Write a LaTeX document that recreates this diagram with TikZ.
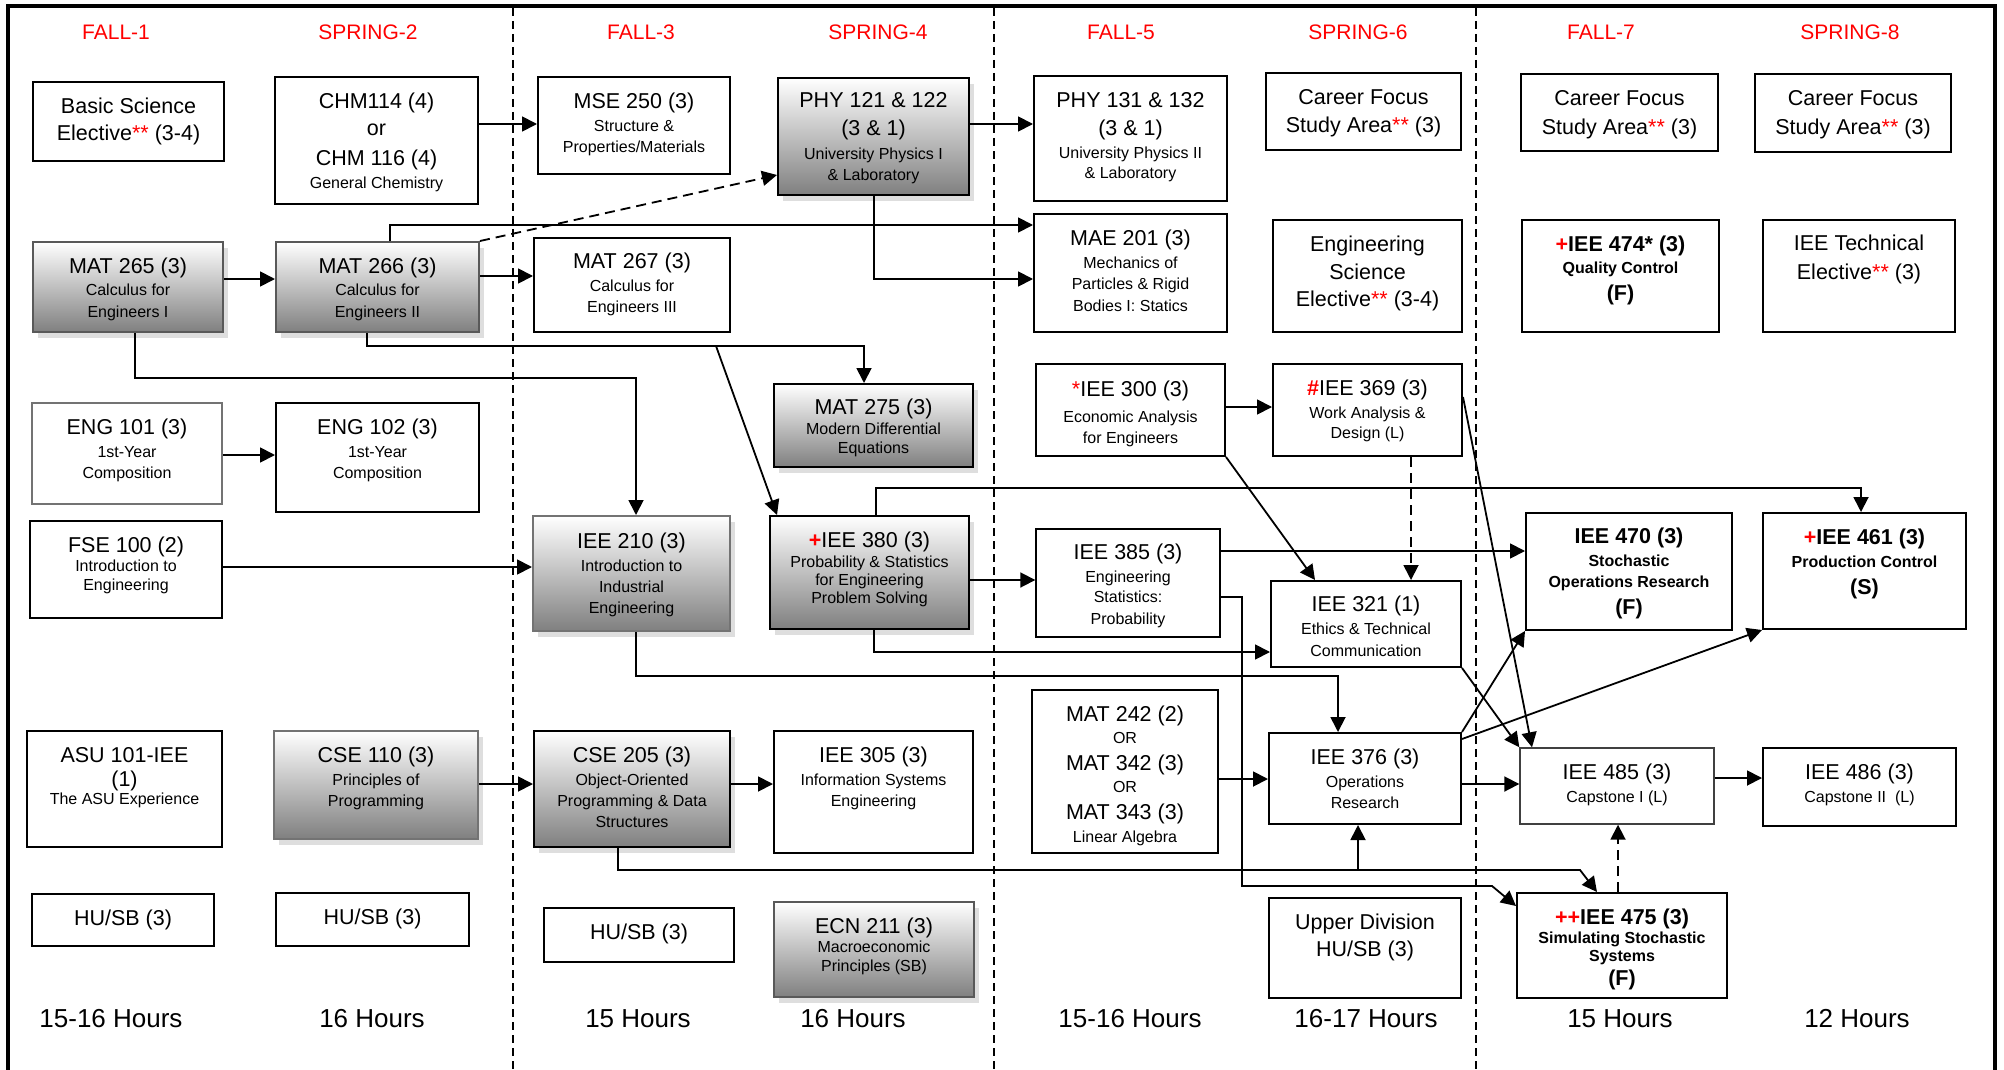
\documentclass[tikz,border=0pt]{standalone}
\usepackage{fontspec}
\setmainfont{Liberation Sans}
\usetikzlibrary{arrows.meta,shadows,calc}
\newcounter{lc}
\newcommand\rd[1]{\textcolor{red}{#1}}
\newcommand\cbox[6]{\node[#6,minimum width={#4-#2},minimum height={#5-#3}] (#1) at ({(#2+#4)/2},{(#3+#5)/2}) {};}
\newcommand\tline[4]{\stepcounter{lc}\node[#3] (lbl\arabic{lc}) at (#1.center |- 0,#2) {#4};}
\begin{document}
\begin{tikzpicture}[x=1pt,y=-1pt,
  box/.style={draw=black,line width=2pt,fill=white,rectangle,inner sep=0pt},
  gbox/.style={box,draw=black!55},
  thinbox/.style={box,line width=1.4pt},
  sbox/.style={box,draw=black!65,top color=white,bottom color=black!50,
     drop shadow={shadow xshift=5pt,shadow yshift=-6pt,fill=black!13,opacity=1}},
  big/.style={font=\fontsize{21.5}{25}\selectfont,text height=15.4pt,text depth=0pt,inner sep=0pt},
  sm/.style={font=\fontsize{16}{19}\selectfont,text height=11.5pt,text depth=0pt,inner sep=0pt},
  bbig/.style={big,font=\fontsize{21.5}{25}\selectfont\bfseries},
  bsm/.style={sm,font=\fontsize{16}{19}\selectfont\bfseries},
  hrs/.style={font=\fontsize{26}{30}\selectfont,text height=18.6pt,text depth=0pt,inner sep=0pt},
  head/.style={font=\fontsize{21}{25}\selectfont,text=red,text height=15pt,text depth=0pt,inner sep=0pt},
  arr/.style={line width=1.8pt,-{Triangle[length=15pt,width=15pt]}},
  dashline/.style={dash pattern=on 10pt off 6pt},
  vdash/.style={line width=1.8pt,dash pattern=on 8pt off 5pt}
]
\useasboundingbox (0,0) rectangle (2004,1070);
% frame and semester separators
\draw[line width=4pt,line join=miter] (8,1075) -- (8,6) -- (1995,6) -- (1995,1075);
\draw[vdash] (513,8) -- (513,1070);
\draw[vdash] (994,8) -- (994,1070);
\draw[vdash] (1476,8) -- (1476,1070);

% headers
\node[head] (hd1) at (116,32) {FALL-1};
\node[head] (hd2) at (368,32) {SPRING-2};
\node[head] (hd3) at (641,32) {FALL-3};
\node[head] (hd4) at (878,32) {SPRING-4};
\node[head] (hd5) at (1121,32) {FALL-5};
\node[head] (hd6) at (1358,32) {SPRING-6};
\node[head] (hd7) at (1601,32) {FALL-7};
\node[head] (hd8) at (1850,32) {SPRING-8};

% hours
\node[hrs] (hr1) at (111,1018) {15-16 Hours};
\node[hrs] (hr2) at (372,1018) {16 Hours};
\node[hrs] (hr3) at (638,1018) {15 Hours};
\node[hrs] (hr4) at (853,1018) {16 Hours};
\node[hrs] (hr5) at (1130,1018) {15-16 Hours};
\node[hrs] (hr6) at (1366,1018) {16-17 Hours};
\node[hrs] (hr7) at (1620,1018) {15 Hours};
\node[hrs] (hr8) at (1857,1018) {12 Hours};

% boxes
\cbox{bse}{33}{82}{224}{161}{box}
\cbox{chm}{275}{77}{478}{204}{box}
\cbox{mat265}{33}{242}{223}{332}{sbox}
\cbox{mat266}{276}{242}{479}{332}{sbox}
\cbox{eng101}{32}{403}{222}{504}{gbox}
\cbox{eng102}{276}{403}{479}{512}{box}
\cbox{fse100}{30}{521}{222}{618}{box}
\cbox{asu101}{27}{731}{222}{847}{box}
\cbox{cse110}{274}{731}{478}{839}{sbox,draw=black!55}
\cbox{husbA}{32}{894}{214}{946}{box}
\cbox{husbB}{276}{893}{469}{946}{box}
\cbox{mse250}{538}{77}{730}{174}{box}
\cbox{mat267}{534}{238}{730}{332}{box}
\cbox{iee210}{533}{516}{730}{631}{sbox,draw=black!55}
\cbox{cse205}{534}{731}{730}{847}{sbox,draw=black}
\cbox{husbC}{544}{908}{734}{962}{box}
\cbox{phy121}{778}{78}{969}{195}{sbox,draw=black}
\cbox{mat275}{774}{384}{973}{467}{sbox,draw=black}
\cbox{iee380}{770}{516}{969}{629}{sbox,draw=black}
\cbox{iee305}{774}{731}{973}{853}{box}
\cbox{ecn211}{774}{902}{974}{997}{sbox}
\cbox{phy131}{1034}{76}{1227}{201}{box}
\cbox{mae201}{1034}{214}{1227}{332}{box}
\cbox{iee300}{1036}{364}{1225}{456}{box}
\cbox{iee385}{1036}{529}{1220}{637}{thinbox}
\cbox{mat242}{1032}{690}{1218}{853}{box}
\cbox{cfsaF}{1266}{73}{1461}{150}{box}
\cbox{ese}{1273}{220}{1462}{332}{box}
\cbox{iee369}{1273}{364}{1462}{456}{box}
\cbox{iee321}{1271}{581}{1461}{667}{box}
\cbox{iee376}{1269}{733}{1461}{824}{box}
\cbox{upper}{1269}{898}{1461}{998}{box}
\cbox{cfsaG}{1521}{74}{1718}{151}{box}
\cbox{iee474}{1522}{220}{1719}{332}{box}
\cbox{iee470}{1526}{513}{1732}{630}{box}
\cbox{iee485}{1520}{748}{1714}{824}{thinbox,draw=black!75}
\cbox{iee475}{1517}{893}{1727}{998}{box}
\cbox{cfsaH}{1755}{74}{1951}{152}{box}
\cbox{ieetech}{1763}{220}{1955}{332}{box}
\cbox{iee461}{1763}{513}{1966}{629}{box}
\cbox{iee486}{1763}{748}{1956}{826}{box}

% texts
\tline{bse}{106}{big}{Basic Science}
\tline{bse}{133}{big}{Elective\rd{**} (3-4)}
\tline{chm}{101}{big}{CHM114 (4)}
\tline{chm}{128}{big}{or}
\tline{chm}{158}{big}{CHM 116 (4)}
\tline{chm}{183}{sm}{General Chemistry}
\tline{mat265}{266}{big}{MAT 265 (3)}
\tline{mat265}{290}{sm}{Calculus for}
\tline{mat265}{312}{sm}{Engineers I}
\tline{mat266}{266}{big}{MAT 266 (3)}
\tline{mat266}{290}{sm}{Calculus for}
\tline{mat266}{312}{sm}{Engineers II}
\tline{eng101}{427}{big}{ENG 101 (3)}
\tline{eng101}{452}{sm}{1st-Year}
\tline{eng101}{473}{sm}{Composition}
\tline{eng102}{427}{big}{ENG 102 (3)}
\tline{eng102}{452}{sm}{1st-Year}
\tline{eng102}{473}{sm}{Composition}
\tline{fse100}{545}{big}{FSE 100 (2)}
\tline{fse100}{566}{sm}{Introduction to}
\tline{fse100}{585}{sm}{Engineering}
\tline{asu101}{755}{big}{ASU 101-IEE}
\tline{asu101}{779}{big}{(1)}
\tline{asu101}{799}{sm}{The ASU Experience}
\tline{cse110}{755}{big}{CSE 110 (3)}
\tline{cse110}{780}{sm}{Principles of}
\tline{cse110}{801}{sm}{Programming}
\tline{husbA}{918}{big}{HU/SB (3)}
\tline{husbB}{917}{big}{HU/SB (3)}
\tline{mse250}{101}{big}{MSE 250 (3)}
\tline{mse250}{126}{sm}{Structure \&}
\tline{mse250}{147}{sm}{Properties/Materials}
\tline{mat267}{261}{big}{MAT 267 (3)}
\tline{mat267}{286}{sm}{Calculus for}
\tline{mat267}{307}{sm}{Engineers III}
\tline{iee210}{541}{big}{IEE 210 (3)}
\tline{iee210}{566}{sm}{Introduction to}
\tline{iee210}{587}{sm}{Industrial}
\tline{iee210}{608}{sm}{Engineering}
\tline{cse205}{755}{big}{CSE 205 (3)}
\tline{cse205}{780}{sm}{Object-Oriented}
\tline{cse205}{801}{sm}{Programming \& Data}
\tline{cse205}{822}{sm}{Structures}
\tline{husbC}{932}{big}{HU/SB (3)}
\tline{phy121}{100}{big}{PHY 121 \& 122}
\tline{phy121}{128}{big}{(3 \& 1)}
\tline{phy121}{154}{sm}{University Physics I}
\tline{phy121}{175}{sm}{\& Laboratory}
\tline{mat275}{407}{big}{MAT 275 (3)}
\tline{mat275}{429}{sm}{Modern Differential}
\tline{mat275}{448}{sm}{Equations}
\tline{iee380}{540}{big}{\rd{\textbf{+}}IEE 380 (3)}
\tline{iee380}{562}{sm}{Probability \& Statistics}
\tline{iee380}{580}{sm}{for Engineering}
\tline{iee380}{598}{sm}{Problem Solving}
\tline{iee305}{755}{big}{IEE 305 (3)}
\tline{iee305}{780}{sm}{Information Systems}
\tline{iee305}{801}{sm}{Engineering}
\tline{ecn211}{926}{big}{ECN 211 (3)}
\tline{ecn211}{947}{sm}{Macroeconomic}
\tline{ecn211}{966}{sm}{Principles (SB)}
\tline{phy131}{100}{big}{PHY 131 \& 132}
\tline{phy131}{128}{big}{(3 \& 1)}
\tline{phy131}{153}{sm}{University Physics II}
\tline{phy131}{173}{sm}{\& Laboratory}
\tline{mae201}{238}{big}{MAE 201 (3)}
\tline{mae201}{263}{sm}{Mechanics of}
\tline{mae201}{284}{sm}{Particles \& Rigid}
\tline{mae201}{306}{sm}{Bodies I: Statics}
\tline{iee300}{389}{big}{\rd{*}IEE 300 (3)}
\tline{iee300}{417}{sm}{Economic Analysis}
\tline{iee300}{438}{sm}{for Engineers}
\tline{iee385}{552}{big}{IEE 385 (3)}
\tline{iee385}{577}{sm}{Engineering}
\tline{iee385}{597}{sm}{Statistics:}
\tline{iee385}{619}{sm}{Probability}
\tline{mat242}{714}{big}{MAT 242 (2)}
\tline{mat242}{738}{sm}{OR}
\tline{mat242}{763}{big}{MAT 342 (3)}
\tline{mat242}{787}{sm}{OR}
\tline{mat242}{812}{big}{MAT 343 (3)}
\tline{mat242}{837}{sm}{Linear Algebra}
\tline{cfsaF}{97}{big}{Career Focus}
\tline{cfsaF}{125}{big}{Study Area\rd{**} (3)}
\tline{ese}{244}{big}{Engineering}
\tline{ese}{272}{big}{Science}
\tline{ese}{299}{big}{Elective\rd{**} (3-4)}
\tline{iee369}{388}{big}{\rd{\textbf{\#}}IEE 369 (3)}
\tline{iee369}{413}{sm}{Work Analysis \&}
\tline{iee369}{433}{sm}{Design (L)}
\tline{iee321}{604}{big}{IEE 321 (1)}
\tline{iee321}{629}{sm}{Ethics \& Technical}
\tline{iee321}{651}{sm}{Communication}
\tline{iee376}{757}{big}{IEE 376 (3)}
\tline{iee376}{782}{sm}{Operations}
\tline{iee376}{803}{sm}{Research}
\tline{upper}{922}{big}{Upper Division}
\tline{upper}{949}{big}{HU/SB (3)}
\tline{cfsaG}{98}{big}{Career Focus}
\tline{cfsaG}{127}{big}{Study Area\rd{**} (3)}
\tline{iee474}{244}{bbig}{\rd{+}IEE 474* (3)}
\tline{iee474}{268}{bsm}{Quality Control}
\tline{iee474}{293}{bbig}{(F)}
\tline{iee470}{536}{bbig}{IEE 470 (3)}
\tline{iee470}{561}{bsm}{Stochastic}
\tline{iee470}{582}{bsm}{Operations Research}
\tline{iee470}{607}{bbig}{(F)}
\tline{iee485}{772}{big}{IEE 485 (3)}
\tline{iee485}{797}{sm}{Capstone I (L)}
\tline{iee475}{917}{bbig}{\rd{++}IEE 475 (3)}
\tline{iee475}{938}{bsm}{Simulating Stochastic}
\tline{iee475}{956}{bsm}{Systems}
\tline{iee475}{978}{bbig}{(F)}
\tline{cfsaH}{98}{big}{Career Focus}
\tline{cfsaH}{127}{big}{Study Area\rd{**} (3)}
\tline{ieetech}{243}{big}{IEE Technical}
\tline{ieetech}{272}{big}{Elective\rd{**} (3)}
\tline{iee461}{537}{bbig}{\rd{+}IEE 461 (3)}
\tline{iee461}{562}{bsm}{Production Control}
\tline{iee461}{587}{bbig}{(S)}
\tline{iee486}{772}{big}{IEE 486 (3)}
\tline{iee486}{797}{sm}{Capstone II\ \ (L)}

% connectors
\coordinate (br1) at (716,346);
\coordinate (br2) at (1358,870);
\draw[arr] (mat265.east |- 0,279) -- (mat266.west |- 0,279);
\draw[arr] (chm.east |- 0,124) -- (mse250.west |- 0,124);
\draw[arr] (mat266.east |- 0,276) -- (mat267.west |- 0,276);
\draw[arr,dashline] (mat266.north east) -- (phy121.west |- 0,175);
\draw[arr] (mat266.north -| 390,0) |- (mae201.west |- 0,225);
\draw[arr] (phy121.south -| 874,0) |- (mae201.west |- 0,279);
\draw[arr] (phy121.east |- 0,124) -- (phy131.west |- 0,124);
\draw[arr] (mat265.south -| 135,0) |- (636,378) -- (iee210.north -| 636,0);
\draw[arr] (mat266.south -| 367,0) |- (864,346) -- (mat275.north -| 864,0);
\draw[arr] (br1) -- ($(iee380.north west)+(8,0)$);
\draw[arr] (eng101.east |- 0,455) -- (eng102.west |- 0,455);
\draw[arr] (fse100.east |- 0,567) -- (iee210.west |- 0,567);
\draw[arr] (cse110.east |- 0,784) -- (cse205.west |- 0,784);
\draw[arr] (cse205.east |- 0,784) -- (iee305.west |- 0,784);
\draw[arr] (iee210.south -| 636,0) |- (1338,676) -- (iee376.north -| 1338,0);
\draw[arr] (iee380.north -| 876,0) |- (1861,488) -- (iee461.north -| 1861,0);
\draw[arr] (iee380.east |- 0,580) -- (iee385.west |- 0,580);
\draw[arr] (iee380.south -| 874,0) |- (iee321.west |- 0,652);
\draw[arr] (cse205.south -| 618,0) |- (1580,870) -- (iee475.north -| 1597,0);
\draw[arr] (br2) -- (iee376.south -| 1358,0);
\draw[arr] (iee300.east |- 0,407) -- (iee369.west |- 0,407);
\draw[arr] (iee300.south east) -- (iee321.north -| 1315,0);
\draw[arr,dashline] (iee369.south -| 1411,0) -- (iee321.north -| 1411,0);
\draw[arr] (iee369.east |- 0,397) -- (iee485.north -| 1532,0);
\draw[arr] (iee321.south east) -- (iee485.north west);
\draw[arr] (iee385.east |- 0,551) -- (iee470.west |- 0,551);
\draw[arr] (iee385.east |- 0,597) -- (1242,597) -- (1242,886) -- (1492,886) -- (iee475.west |- 0,906);
\draw[arr] (mat242.east |- 0,779) -- (iee376.west |- 0,779);
\draw[arr] (iee376.east |- 0,784) -- (iee485.west |- 0,784);
\draw[arr] (iee376.north east) -- (iee470.south west);
\draw[arr] (iee376.east |- 0,739) -- (iee461.south west);
\draw[arr] (iee485.east |- 0,778) -- (iee486.west |- 0,778);
\draw[arr,dashline] (iee475.north -| 1618,0) -- (iee485.south -| 1618,0);
\end{tikzpicture}
\end{document}
